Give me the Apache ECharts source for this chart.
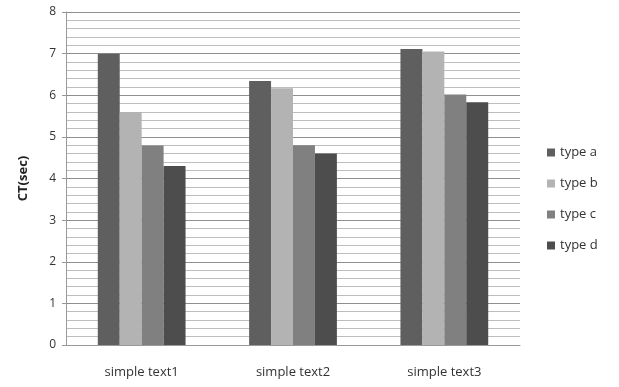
<!DOCTYPE html>
<html>
<head>
<meta charset="utf-8">
<script src="https://cdn.jsdelivr.net/npm/echarts@6/dist/echarts.min.js"></script>
<style>html,body{margin:0;padding:0;background:#fff;}#c{width:619px;height:387px;}</style>
</head>
<body>
<div id="c"></div>
<script>
var categories = ['simple text1', 'simple text2', 'simple text3'];
var seriesNames = ['type a', 'type b', 'type c', 'type d'];
var typeA = [7.0, 6.34, 7.11];
var typeB = [5.6, 6.17, 7.05];
var typeC = [4.79, 4.8, 6.02];
var typeD = [4.3, 4.6, 5.83];
var colors = ['#5f5f5f', '#b3b3b3', '#808080', '#4d4d4d'];

var chart = echarts.init(document.getElementById('c'));
var dataSets = [typeA, typeB, typeC, typeD];
var font = '"Open Sans", "Noto Sans", sans-serif';
chart.setOption({
  animation: false,
  textStyle: { fontFamily: font },
  grid: { left: 66, right: 99, top: 12, bottom: 42 },
  legend: {
    orient: 'vertical', left: 542, top: 141,
    icon: 'rect', itemWidth: 8, itemHeight: 8, itemGap: 18,
    textStyle: { fontSize: 13, color: '#333', fontFamily: font },
    data: seriesNames
  },
  xAxis: {
    type: 'category', data: categories,
    axisLine: { lineStyle: { color: '#999' } },
    axisTick: { show: false },
    axisLabel: { fontSize: 13, color: '#333', margin: 21 }
  },
  yAxis: {
    type: 'value', min: 0, max: 8, interval: 1,
    name: 'CT(sec)', nameLocation: 'middle', nameGap: 36, nameRotate: 90,
    nameTextStyle: { fontWeight: 'bold', fontSize: 13, color: '#222' },
    axisLine: { show: true, lineStyle: { color: '#999' } },
    axisTick: { show: true, length: 4, lineStyle: { color: '#999' } },
    axisLabel: { fontSize: 12, color: '#333', margin: 10 },
    splitLine: { lineStyle: { color: '#8f8f8f', width: 1 } },
    minorTick: { show: false, splitNumber: 5 },
    minorSplitLine: { show: true, lineStyle: { color: '#bdbdbd', width: 1 } }
  },
  series: seriesNames.map(function (n, i) {
    return {
      name: n, type: 'bar', data: dataSets[i],
      barGap: '0%', barCategoryGap: '42%',
      itemStyle: { color: colors[i] }
    };
  })
});
</script>
</body>
</html>
